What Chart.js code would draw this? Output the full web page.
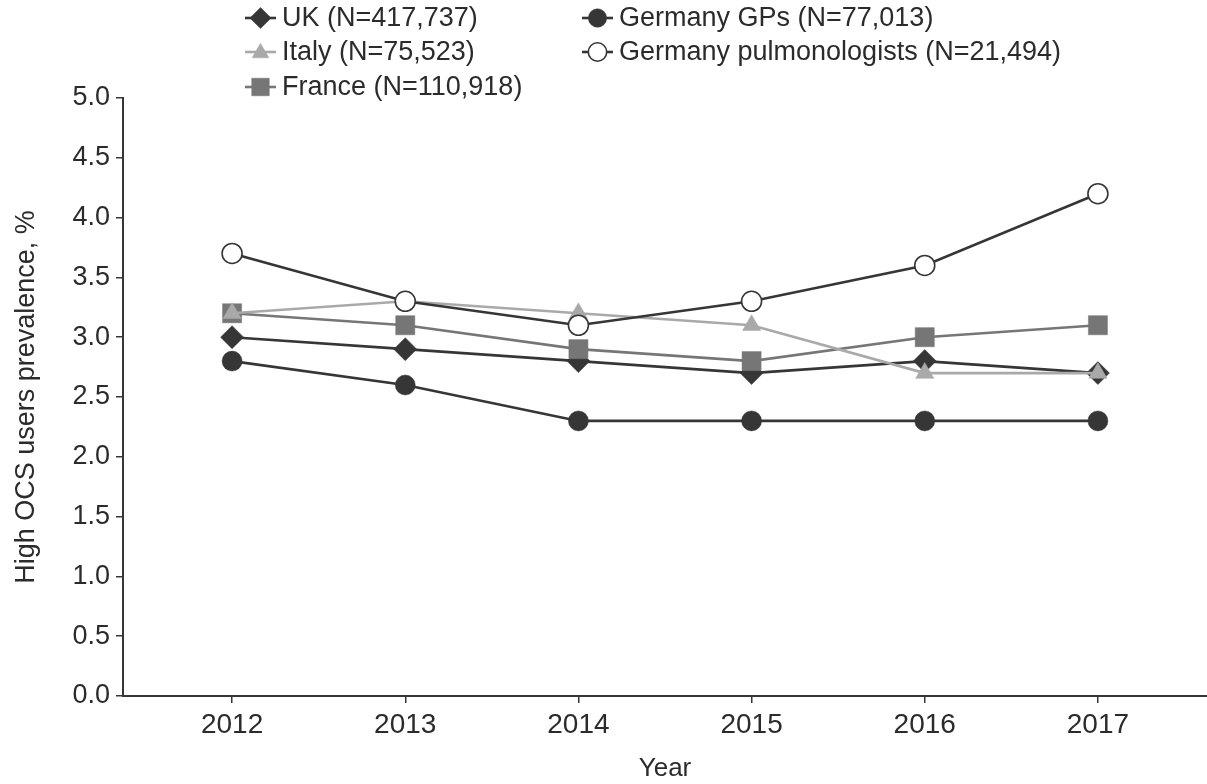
<!DOCTYPE html>
<html>
<head>
<meta charset="utf-8">
<script src="https://cdn.jsdelivr.net/npm/chart.js@4/dist/chart.umd.min.js"></script>
<style>
  html, body { margin: 0; padding: 0; background: #fff; overflow: hidden; }
  #wrap { width: 1207px; height: 784px; position: relative; }
  #c { display: block; }
</style>
</head>
<body>
<div id="wrap"><canvas id="c"></canvas></div>
<script>
// Survey years and high OCS user prevalence (%) per cohort
const years = [2012, 2013, 2014, 2015, 2016, 2017];
const ukValues = [3.0, 2.9, 2.8, 2.7, 2.8, 2.7];
const italyValues = [3.2, 3.3, 3.2, 3.1, 2.7, 2.7];
const franceValues = [3.2, 3.1, 2.9, 2.8, 3.0, 3.1];
const germanyGpValues = [2.8, 2.6, 2.3, 2.3, 2.3, 2.3];
const germanyPulmoValues = [3.7, 3.3, 3.1, 3.3, 3.6, 4.2];
const yTickValues = [0, 0.5, 1, 1.5, 2, 2.5, 3, 3.5, 4, 4.5, 5];

const DARK = '#363636';
const MID = '#767676';
const LIGHT = '#a9a9a9';
const TEXT = '#2b2b2b';
const FONT = '"Liberation Sans", Arial, sans-serif';

function pts(vals) { return years.map((y, i) => ({ x: y, y: vals[i] })); }

function series(label, vals, color, style, radius, fill, order) {
  return {
    label, data: pts(vals), order,
    borderColor: color, borderWidth: 2.6,
    pointStyle: style, pointRadius: radius, pointHoverRadius: radius,
    pointBackgroundColor: fill || color, pointBorderColor: color,
    pointBorderWidth: fill ? 1.6 : 0.5,
    tension: 0, fill: false
  };
}

const datasets = [
  series('UK (N=417,737)', ukValues, DARK, 'rectRot', 11.5, null, 3),
  series('Italy (N=75,523)', italyValues, LIGHT, 'triangle', 10.5, null, 1),
  series('France (N=110,918)', franceValues, MID, 'rect', 13.5, null, 2),
  series('Germany GPs (N=77,013)', germanyGpValues, DARK, 'circle', 10, null, 4),
  series('Germany pulmonologists (N=21,494)', germanyPulmoValues, DARK, 'circle', 10, '#ffffff', 0)
];

// Legend drawn on the canvas: a short line crossing each marker, in two columns
const legendSpots = [
  { x: 245, y: 18 }, { x: 245, y: 52 }, { x: 245, y: 87 },
  { x: 582, y: 18 }, { x: 582, y: 52 }
];
const lineLegend = {
  id: 'lineLegend',
  afterDraw(chart) {
    const ctx = chart.ctx;
    ctx.save();
    chart.data.datasets.forEach((ds, i) => {
      const p = legendSpots[i];
      ctx.strokeStyle = ds.borderColor;
      ctx.lineWidth = 2.6;
      ctx.beginPath();
      ctx.moveTo(p.x, p.y);
      ctx.lineTo(p.x + 31, p.y);
      ctx.stroke();
      ctx.fillStyle = ds.pointBackgroundColor;
      ctx.strokeStyle = ds.pointBorderColor;
      ctx.lineWidth = ds.pointBorderWidth;
      Chart.helpers.drawPoint(ctx, {
        pointStyle: ds.pointStyle, rotation: 0,
        radius: ds.pointRadius * 0.92,
        borderWidth: ds.pointBorderWidth
      }, p.x + 15.5, p.y + (ds.pointStyle === 'triangle' ? 1 : 0));
      ctx.fillStyle = TEXT;
      ctx.font = '27px ' + FONT;
      ctx.textBaseline = 'middle';
      ctx.fillText(ds.label, p.x + 37, p.y + 1);
    });
    ctx.restore();
  }
};

new Chart(document.getElementById('c'), {
  type: 'line',
  data: { datasets },
  plugins: [lineLegend],
  options: {
    responsive: true,
    maintainAspectRatio: false,
    animation: false,
    layout: { autoPadding: false, padding: { top: 98, right: 0, left: 0, bottom: 0 } },
    plugins: { legend: { display: false }, tooltip: { enabled: false } },
    scales: {
      x: {
        type: 'linear',
        min: 2011.37, max: 2017.63,
        afterBuildTicks: axis => { axis.ticks = years.map(v => ({ value: v })); },
        afterFit: axis => { axis.height = 88; },
        border: { display: true, color: DARK, width: 2 },
        grid: { display: true, drawOnChartArea: false, drawTicks: true, tickLength: 7, color: DARK, lineWidth: 1.5 },
        ticks: {
          color: TEXT, padding: 5, maxRotation: 0,
          font: { family: FONT, size: 28 },
          callback: v => String(v)
        },
        title: {
          display: true, text: 'Year', color: TEXT,
          font: { family: FONT, size: 26 },
          padding: { top: 4, bottom: 0 }
        }
      },
      y: {
        min: 0, max: 5,
        afterBuildTicks: axis => { axis.ticks = yTickValues.map(v => ({ value: v })); },
        afterFit: axis => { axis.width = 123; },
        border: { display: true, color: DARK, width: 2 },
        grid: { display: true, drawOnChartArea: false, drawTicks: true, tickLength: 7, color: DARK, lineWidth: 1.5 },
        ticks: {
          color: TEXT, padding: 6,
          font: { family: FONT, size: 27 },
          callback: v => Number(v).toFixed(1)
        },
        title: {
          display: true, text: 'High OCS users prevalence, %', color: TEXT,
          font: { family: FONT, size: 27 },
          padding: { top: 10, bottom: 4 }
        }
      }
    }
  }
});
</script>
</body>
</html>
